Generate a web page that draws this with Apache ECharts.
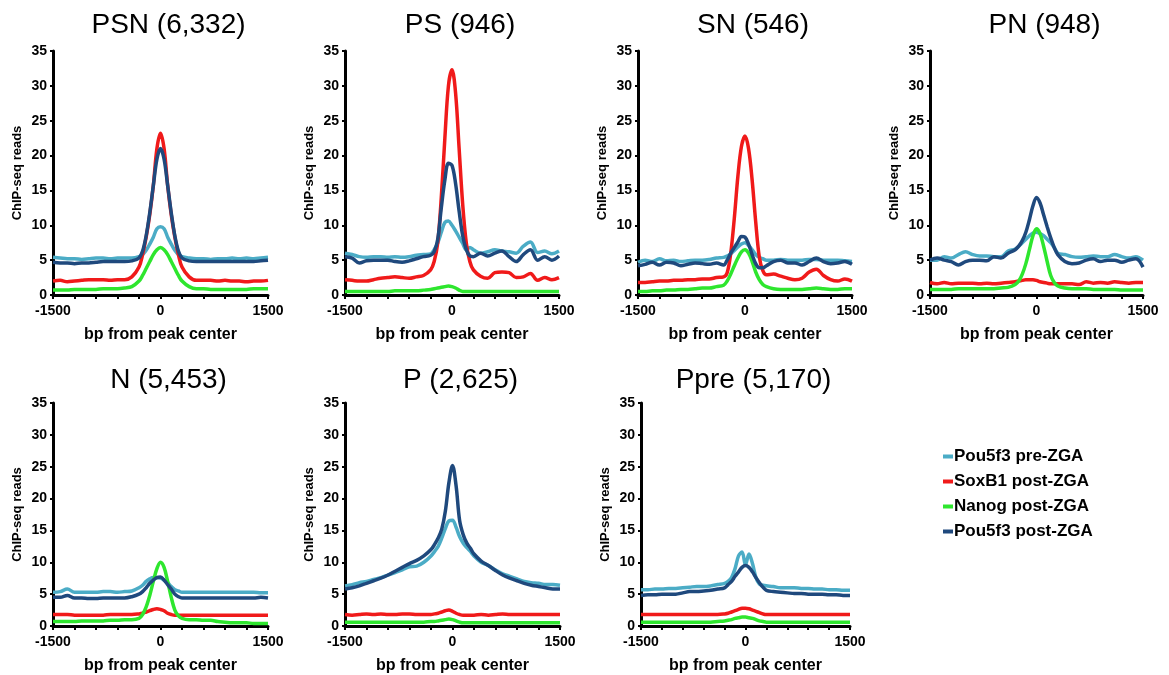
<!DOCTYPE html>
<html>
<head>
<meta charset="utf-8">
<title>ChIP-seq peak profiles</title>
<script src="https://cdn.jsdelivr.net/npm/echarts@6/dist/echarts.min.js"></script>
<style>
    html, body { margin: 0; padding: 0; background: #fff; }
    #chart { width: 1169px; height: 675px; }
</style>
</head>
<body>
<div id="chart"></div>
<script>
// bp positions shared by every profile (finer near the peak center)
const bpPositions = [-1500, -1400, -1300, -1200, -1100, -1000, -900, -800, -700, -600, -500, -400,
    -300, -250, -200, -150, -100, -50, 0, 50, 100, 150, 200, 250, 300,
    400, 500, 600, 700, 800, 900, 1000, 1100, 1200, 1300, 1400, 1500];

const xTickLabels = [-1500, 0, 1500];
const yTicks = [0, 5, 10, 15, 20, 25, 30, 35];

const seriesNames = ["Pou5f3 pre-ZGA", "SoxB1 post-ZGA", "Nanog post-ZGA", "Pou5f3 post-ZGA"];
const panelTitles = ["PSN (6,332)", "PS (946)", "SN (546)", "PN (948)", "N (5,453)", "P (2,625)", "Ppre (5,170)"];

// PSN
const psnPre = [5.4, 5.3, 5.2, 5.2, 5.1, 5.2, 5.3, 5.3, 5.2, 5.3, 5.3, 5.3, 5.5, 5.8, 6.4, 7.3, 8.3, 9.5, 9.8, 9.5, 8.3, 7.3, 6.4, 5.8, 5.5, 5.3, 5.2, 5.2, 5.1, 5.2, 5.2, 5.3, 5.2, 5.3, 5.2, 5.3, 5.4];
const psnSox = [2.0, 2.1, 1.9, 2.0, 2.1, 2.2, 2.2, 2.2, 2.1, 2.2, 2.2, 2.6, 4.0, 5.8, 8.3, 11.5, 15.7, 21.0, 23.2, 21.0, 15.7, 11.5, 8.3, 5.8, 4.0, 2.6, 2.1, 2.1, 2.1, 2.0, 2.1, 2.0, 2.0, 1.9, 2.0, 2.0, 2.1];
const psnNanog = [0.7, 0.7, 0.7, 0.8, 0.8, 0.8, 0.8, 0.9, 0.9, 0.9, 1.0, 1.2, 2.0, 2.8, 3.8, 4.8, 5.8, 6.5, 6.8, 6.5, 5.8, 4.8, 3.8, 2.8, 2.0, 1.2, 0.9, 0.9, 0.8, 0.8, 0.8, 0.8, 0.8, 0.8, 0.9, 0.9, 0.9];
const psnPost = [4.7, 4.6, 4.6, 4.5, 4.6, 4.6, 4.7, 4.8, 4.8, 4.8, 4.8, 4.9, 5.3, 6.3, 8.5, 11.8, 15.7, 19.5, 21.0, 19.5, 15.7, 11.8, 8.5, 6.3, 5.3, 4.9, 4.8, 4.8, 4.8, 4.8, 4.8, 4.8, 4.8, 4.8, 4.8, 4.9, 5.0];

// PS
const psPre = [6.0, 5.8, 5.5, 5.4, 5.5, 5.5, 5.4, 5.5, 5.4, 5.5, 5.7, 5.8, 5.9, 6.5, 7.5, 9.0, 10.4, 10.6, 10.0, 9.2, 8.3, 7.4, 6.5, 6.8, 6.5, 6.0, 6.2, 6.5, 6.3, 6.2, 6.0, 7.0, 7.6, 6.1, 6.3, 5.9, 6.3];
const psSox = [2.2, 2.1, 2.0, 2.0, 2.2, 2.4, 2.5, 2.6, 2.5, 2.4, 2.6, 2.8, 3.6, 4.8, 7.5, 14.0, 22.5, 30.0, 32.3, 29.0, 21.0, 13.0, 7.5, 4.8, 3.6, 2.7, 2.4, 3.2, 3.3, 3.2, 2.5, 2.6, 3.1, 2.1, 2.5, 2.2, 2.5];
const psNanog = [0.5, 0.5, 0.5, 0.5, 0.5, 0.5, 0.5, 0.6, 0.6, 0.6, 0.6, 0.7, 0.8, 0.9, 1.0, 1.1, 1.2, 1.3, 1.2, 1.0, 0.7, 0.5, 0.5, 0.5, 0.5, 0.5, 0.5, 0.5, 0.5, 0.5, 0.5, 0.5, 0.5, 0.5, 0.5, 0.5, 0.5];
const psPost = [5.5, 5.3, 4.6, 4.9, 5.0, 5.0, 5.0, 4.8, 4.7, 4.9, 5.2, 5.5, 5.7, 6.2, 8.0, 12.5, 16.5, 18.9, 18.6, 16.0, 12.0, 8.5, 6.5, 5.6, 5.5, 6.0, 5.6, 6.0, 6.3, 5.5, 4.8, 5.8, 6.5, 5.0, 5.5, 5.0, 5.6];

// SN
const snPre = [4.7, 5.0, 4.8, 5.2, 4.9, 5.0, 4.8, 4.9, 5.0, 5.0, 5.1, 5.3, 5.4, 5.6, 5.9, 6.4, 6.9, 7.3, 7.5, 7.1, 6.5, 5.8, 5.4, 5.2, 5.0, 5.0, 5.1, 5.0, 5.0, 5.0, 5.1, 5.1, 5.0, 5.0, 5.0, 4.9, 4.8];
const snSox = [1.8, 1.8, 1.9, 2.0, 2.0, 2.1, 2.1, 2.2, 2.2, 2.3, 2.3, 2.5, 2.6, 3.2, 6.0, 11.0, 17.0, 21.3, 22.8, 21.0, 16.5, 10.5, 5.5, 3.5, 2.9, 3.0, 2.7, 2.4, 2.2, 2.4, 3.3, 3.7, 2.8, 2.2, 2.0, 2.3, 2.0];
const snNanog = [0.5, 0.5, 0.6, 0.6, 0.7, 0.7, 0.8, 0.8, 0.9, 1.0, 1.0, 1.2, 1.4, 2.0, 3.0, 4.2, 5.3, 6.2, 6.5, 6.0, 4.8, 3.3, 2.2, 1.5, 1.2, 0.9, 0.8, 0.8, 0.8, 0.8, 0.9, 1.0, 0.9, 0.8, 0.8, 0.9, 0.9];
const snPost = [4.2, 4.4, 4.7, 4.3, 4.7, 4.6, 4.2, 4.4, 4.6, 4.5, 4.4, 4.6, 4.3, 5.0, 6.0, 6.8, 7.6, 8.4, 8.3, 7.3, 5.8, 4.5, 3.9, 3.9, 4.2, 4.8, 5.0, 4.6, 4.6, 4.3, 4.8, 5.3, 4.8, 4.5, 4.6, 4.8, 4.4];

// PN
const pnPre = [5.0, 5.0, 5.5, 5.3, 5.8, 6.2, 5.8, 5.6, 5.6, 5.5, 5.5, 6.3, 6.6, 7.0, 7.5, 8.0, 8.5, 8.9, 9.0, 8.8, 8.5, 8.0, 7.5, 6.8, 6.0, 5.8, 5.5, 5.4, 5.5, 5.6, 5.5, 5.5, 5.8, 5.5, 5.3, 5.5, 5.0];
const pnSox = [1.8, 1.6, 1.8, 1.6, 1.7, 1.7, 1.7, 1.6, 1.7, 1.6, 1.7, 1.8, 1.9, 2.0, 2.1, 2.2, 2.2, 2.2, 2.1, 1.9, 1.8, 1.7, 1.6, 1.6, 1.6, 1.6, 1.6, 1.5, 1.9, 1.7, 1.8, 1.7, 1.9, 1.8, 1.7, 1.8, 1.8];
const pnNanog = [0.8, 0.8, 0.8, 0.8, 0.9, 0.9, 0.9, 0.9, 0.9, 0.9, 1.0, 1.1, 1.5, 2.0, 3.0, 4.5, 6.5, 8.5, 9.5, 8.8, 7.0, 4.8, 2.8, 1.8, 1.3, 1.0, 0.9, 0.9, 0.9, 0.8, 0.8, 0.8, 0.8, 0.7, 0.7, 0.7, 0.7];
const pnPost = [5.0, 5.3, 5.0, 4.8, 4.3, 4.8, 5.0, 5.0, 4.9, 5.5, 5.3, 6.0, 6.5, 7.0, 7.8, 9.0, 10.8, 12.8, 14.0, 13.2, 11.5, 9.8, 8.2, 6.8, 5.8, 4.8, 4.5, 4.6, 5.0, 5.2, 4.8, 5.0, 5.0, 4.7, 5.0, 5.2, 4.0];

// N
const nPre = [5.3, 5.4, 5.8, 5.3, 5.3, 5.3, 5.3, 5.4, 5.4, 5.3, 5.4, 5.5, 6.0, 6.4, 7.0, 7.4, 7.6, 7.6, 7.5, 7.2, 6.8, 6.2, 5.7, 5.5, 5.3, 5.3, 5.3, 5.3, 5.3, 5.3, 5.3, 5.3, 5.3, 5.3, 5.3, 5.2, 5.2];
const nSox = [1.8, 1.8, 1.8, 1.7, 1.7, 1.7, 1.7, 1.7, 1.8, 1.8, 1.8, 1.8, 1.9, 2.0, 2.2, 2.4, 2.6, 2.7, 2.6, 2.4, 2.0, 1.8, 1.7, 1.7, 1.7, 1.7, 1.7, 1.7, 1.7, 1.7, 1.7, 1.7, 1.7, 1.7, 1.7, 1.7, 1.7];
const nNanog = [0.7, 0.7, 0.7, 0.7, 0.8, 0.8, 0.8, 0.8, 0.9, 0.9, 1.0, 1.0, 1.2, 1.8, 3.0, 4.8, 7.0, 9.0, 10.0, 9.2, 7.0, 4.5, 2.5, 1.6, 1.2, 1.0, 1.0, 0.9, 0.9, 0.7, 0.6, 0.5, 0.5, 0.5, 0.4, 0.4, 0.4];
const nPost = [4.5, 4.5, 4.8, 4.4, 4.4, 4.3, 4.3, 4.4, 4.4, 4.4, 4.4, 4.6, 5.0, 5.4, 6.0, 6.7, 7.2, 7.6, 7.7, 7.2, 6.5, 5.8, 5.0, 4.6, 4.4, 4.4, 4.4, 4.4, 4.4, 4.4, 4.4, 4.4, 4.4, 4.4, 4.4, 4.5, 4.4];

// P
const pPre = [6.3, 6.5, 6.8, 7.0, 7.3, 7.6, 8.0, 8.4, 8.8, 9.3, 9.4, 10.0, 11.0, 11.7, 12.5, 13.8, 15.3, 16.5, 16.6, 15.5, 14.0, 13.0, 12.3, 11.7, 11.0, 10.0, 9.5, 8.8, 8.2, 7.8, 7.4, 7.0, 6.8, 6.7, 6.5, 6.5, 6.4];
const pSox = [1.8, 1.7, 1.8, 1.9, 1.8, 1.9, 1.8, 1.8, 1.9, 1.9, 1.8, 1.8, 1.8, 1.9, 2.0, 2.2, 2.4, 2.5, 2.3, 2.0, 1.8, 1.7, 1.7, 1.7, 1.7, 1.8, 1.7, 1.8, 1.9, 1.8, 1.8, 1.8, 1.8, 1.8, 1.8, 1.8, 1.8];
const pNanog = [0.6, 0.6, 0.6, 0.6, 0.6, 0.6, 0.6, 0.6, 0.6, 0.6, 0.6, 0.6, 0.7, 0.7, 0.8, 0.9, 1.0, 1.1, 1.0, 0.8, 0.6, 0.5, 0.5, 0.5, 0.5, 0.5, 0.5, 0.5, 0.5, 0.5, 0.5, 0.5, 0.5, 0.5, 0.5, 0.5, 0.5];
const pPost = [5.8, 6.0, 6.3, 6.7, 7.1, 7.5, 8.0, 8.6, 9.2, 9.8, 10.3, 11.0, 12.0, 12.8, 13.8, 15.2, 18.0, 22.5, 25.2, 22.0, 16.5, 14.3, 13.0, 12.2, 11.3, 10.2, 9.5, 8.7, 8.0, 7.5, 7.1, 6.7, 6.4, 6.2, 6.0, 5.8, 5.8];

// Ppre
const ppPre = [5.7, 5.7, 5.8, 5.8, 5.9, 5.9, 6.0, 6.1, 6.2, 6.2, 6.3, 6.5, 6.7, 7.0, 7.6, 9.0, 11.0, 11.6, 9.6, 11.3, 9.8, 7.6, 6.6, 6.4, 6.3, 6.2, 6.0, 6.0, 6.0, 5.9, 5.9, 5.8, 5.8, 5.7, 5.7, 5.6, 5.6];
const ppSox = [1.8, 1.8, 1.8, 1.8, 1.8, 1.8, 1.8, 1.8, 1.8, 1.8, 1.8, 1.8, 1.9, 2.0, 2.2, 2.4, 2.6, 2.8, 2.8, 2.7, 2.5, 2.3, 2.1, 1.9, 1.8, 1.8, 1.8, 1.8, 1.8, 1.8, 1.8, 1.8, 1.8, 1.8, 1.8, 1.8, 1.8];
const ppNanog = [0.6, 0.6, 0.6, 0.6, 0.6, 0.6, 0.6, 0.6, 0.6, 0.6, 0.6, 0.7, 0.8, 0.9, 1.0, 1.2, 1.3, 1.4, 1.4, 1.3, 1.2, 1.0, 0.8, 0.7, 0.6, 0.6, 0.6, 0.6, 0.6, 0.6, 0.6, 0.6, 0.6, 0.6, 0.6, 0.6, 0.6];
const ppPost = [4.8, 4.9, 4.9, 5.0, 5.0, 5.0, 5.2, 5.4, 5.4, 5.5, 5.6, 5.8, 6.0, 6.5, 7.0, 7.8, 8.5, 9.2, 9.5, 9.2, 8.5, 7.6, 6.8, 6.1, 5.6, 5.4, 5.3, 5.2, 5.1, 5.1, 5.0, 5.0, 5.0, 4.9, 4.9, 4.8, 4.8];

const panelData = [
    [psnPre, psnSox, psnNanog, psnPost],
    [psPre, psSox, psNanog, psPost],
    [snPre, snSox, snNanog, snPost],
    [pnPre, pnSox, pnNanog, pnPost],
    [nPre, nSox, nNanog, nPost],
    [pPre, pSox, pNanog, pPost],
    [ppPre, ppSox, ppNanog, ppPost],
];

// ------------------------------------------------------------
// layout / styles
// ------------------------------------------------------------
const COLORS = ["#4BACC6", "#F01A1A", "#2EE62E", "#1F497D"];
const FONT = "'Liberation Sans', Arial, sans-serif";

const gridBoxes = [
    { left: 53, top: 51, width: 215, height: 244 },
    { left: 345, top: 51, width: 214, height: 244 },
    { left: 638, top: 51, width: 214, height: 244 },
    { left: 930, top: 51, width: 213, height: 244 },
    { left: 53, top: 403, width: 215, height: 227 },
    { left: 345, top: 403, width: 215, height: 227 },
    { left: 641, top: 403, width: 209, height: 227 },
];

const chart = echarts.init(document.getElementById("chart"), null, { renderer: "canvas" });

const grids = [], xAxes = [], yAxes = [], titles = [], series = [];

gridBoxes.forEach((g, i) => {
    grids.push({ left: g.left, top: g.top, width: g.width, height: g.height });

    titles.push({
        text: panelTitles[i],
        left: g.left + g.width / 2 + 3,
        top: g.top < 100 ? 6 : 361,
        textAlign: "center",
        textStyle: { fontFamily: FONT, fontSize: 28, fontWeight: "normal", color: "#000" },
    });

    xAxes.push({
        gridIndex: i,
        type: "value",
        min: -1500,
        max: 1500,
        interval: 300,
        name: "bp from peak center",
        nameLocation: "middle",
        nameGap: 32,
        nameTextStyle: { fontFamily: FONT, fontSize: 16, fontWeight: "bold", color: "#000" },
        axisLine: { show: true, onZero: false, lineStyle: { color: "#000", width: 3 } },
        axisTick: { show: true, inside: false, length: 4, lineStyle: { color: "#000", width: 2 } },
        axisLabel: {
            show: true,
            margin: 9,
            fontFamily: FONT,
            fontSize: 14,
            fontWeight: "bold",
            color: "#000",
            showMinLabel: true,
            showMaxLabel: true,
            formatter: (v) => (xTickLabels.includes(v) ? String(v) : ""),
        },
        splitLine: { show: false },
    });

    yAxes.push({
        gridIndex: i,
        type: "value",
        min: yTicks[0],
        max: yTicks[yTicks.length - 1],
        interval: 5,
        name: "ChIP-seq reads",
        nameLocation: "middle",
        nameGap: 29,
        nameTextStyle: { fontFamily: FONT, fontSize: 13, fontWeight: "bold", color: "#000" },
        axisLine: { show: true, onZero: false, lineStyle: { color: "#000", width: 3 } },
        axisTick: { show: true, inside: false, length: 3, lineStyle: { color: "#000", width: 2 } },
        axisLabel: { margin: 6, fontFamily: FONT, fontSize: 14, fontWeight: "bold", color: "#000" },
        splitLine: { show: false },
    });

    panelData[i].forEach((vals, k) => {
        series.push({
            name: seriesNames[k],
            type: "line",
            xAxisIndex: i,
            yAxisIndex: i,
            data: bpPositions.map((x, j) => [x, vals[j]]),
            smooth: 0.35,
            symbol: "none",
            lineStyle: { color: COLORS[k], width: 3.5 },
            itemStyle: { color: COLORS[k] },
            z: 2 + k,
        });
    });
});

chart.setOption({
    animation: false,
    backgroundColor: "#fff",
    title: titles,
    grid: grids,
    xAxis: xAxes,
    yAxis: yAxes,
    legend: {
        orient: "vertical",
        left: 938,
        top: 443,
        itemWidth: 10,
        itemHeight: 4,
        itemGap: 8,
        icon: "rect",
        data: seriesNames,
        selectedMode: false,
        textStyle: { fontFamily: FONT, fontSize: 17, fontWeight: "bold", color: "#000", padding: [0, 0, 0, -4] },
    },
    series: series,
});
</script>
</body>
</html>
